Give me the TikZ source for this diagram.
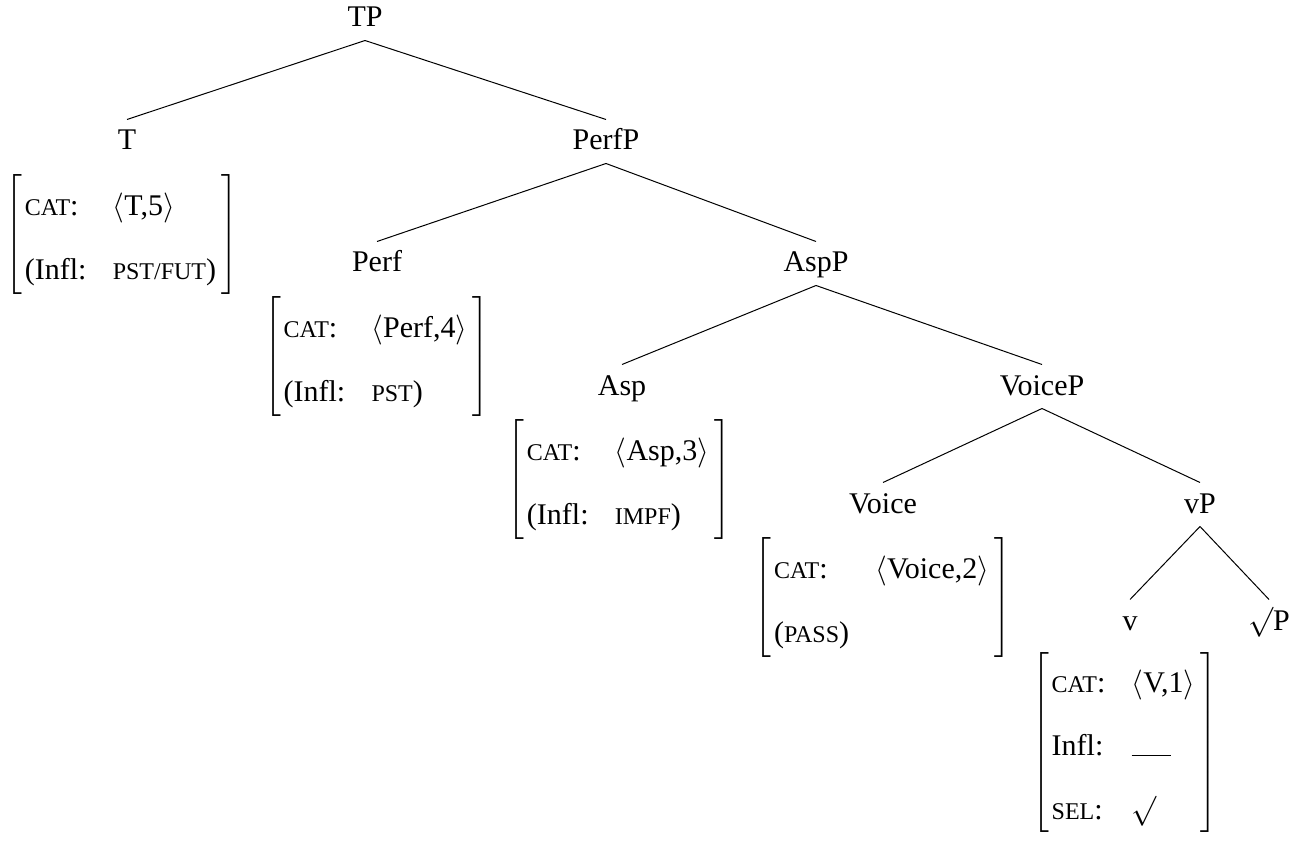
\documentclass[tikz,border=0pt]{standalone}
\usepackage{fontspec}
\setmainfont{Liberation Serif}
\usepackage{tikz}
\usetikzlibrary{positioning}

\newcommand{\fsc}[1]{{\fontsize{9.6}{11}\selectfont #1}}
\newcommand{\avmrow}{@{\hspace{1pt}}l@{\hspace{10.5pt}}l@{\hspace{2.2pt}}}
\renewcommand{\arraystretch}{1.75}

\begin{document}
\begin{tikzpicture}[font=\fontsize{12}{14.5}\selectfont,
  lbl/.style={on grid, inner sep=2.5pt, text height=9.5pt, text depth=2.7pt},
  avm/.style={inner sep=0pt}]

\useasboundingbox (0,0) rectangle (521.2pt,-336.4pt);

\node[lbl] (tp) at (146pt,-7.4pt) {TP};
\node[lbl, below left = 49.2pt and 95.2pt of tp] (t) {T};
\node[lbl, below right = 49.2pt and 96.4pt of tp] (perfp) {PerfP};
\node[lbl, below left = 48.8pt and 91.6pt of perfp] (perf) {Perf};
\node[lbl, below right = 48.8pt and 84pt of perfp] (aspp) {AspP};
\node[lbl, below left = 49.2pt and 77.6pt of aspp] (asp) {Asp};
\node[lbl, below right = 49.2pt and 90.4pt of aspp] (voicep) {VoiceP};
\node[lbl, below left = 47.2pt and 63.6pt of voicep] (voice) {Voice};
\node[lbl, below right = 47.2pt and 63.2pt of voicep] (vp) {vP};
\node[lbl, below left = 46.8pt and 28pt of vp] (v) {v};
\node[lbl, below right = 46.8pt and 27.6pt of vp] (rootp) {$\surd$P};

\node[avm, below = 3pt of t, xshift=-2pt] (tavm)
  {$\left[\begin{tabular}{\avmrow} \fsc{CAT}: & $\langle$T,5$\rangle$ \\ (Infl: & \fsc{PST/FUT}) \end{tabular}\right]$};
\node[avm, below = 3pt of perf] (perfavm)
  {$\left[\begin{tabular}{\avmrow} \fsc{CAT}: & $\langle$Perf,4$\rangle$ \\ (Infl: & \fsc{PST}) \end{tabular}\right]$};
\node[avm, below = 3pt of asp, xshift=-1pt] (aspavm)
  {$\left[\begin{tabular}{\avmrow} \fsc{CAT}: & $\langle$Asp,3$\rangle$ \\ (Infl: & \fsc{IMPF}) \end{tabular}\right]$};
\node[avm, below = 3pt of voice] (voiceavm)
  {$\left[\begin{tabular}{\avmrow} \fsc{CAT}: & $\langle$Voice,2$\rangle$ \\ (\fsc{PASS}) & \end{tabular}\right]$};
\node[avm, below = 1.5pt of v, xshift=-2pt] (vavm)
  {$\left[\begin{tabular}{\avmrow} \fsc{CAT}: & $\langle$V,1$\rangle$ \\ Infl: & \rule{15.6pt}{0.4pt} \\ \fsc{SEL}: & $\surd$ \end{tabular}\right]$};

\path (tp.south) edge (t.north);
\path (tp.south) edge (perfp.north);
\path (perfp.south) edge (perf.north);
\path (perfp.south) edge (aspp.north);
\path (aspp.south) edge (asp.north);
\path (aspp.south) edge (voicep.north);
\path (voicep.south) edge (voice.north);
\path (voicep.south) edge (vp.north);
\path (vp.south) edge (v.north);
\path (vp.south) edge (rootp.north);

\end{tikzpicture}
\end{document}
